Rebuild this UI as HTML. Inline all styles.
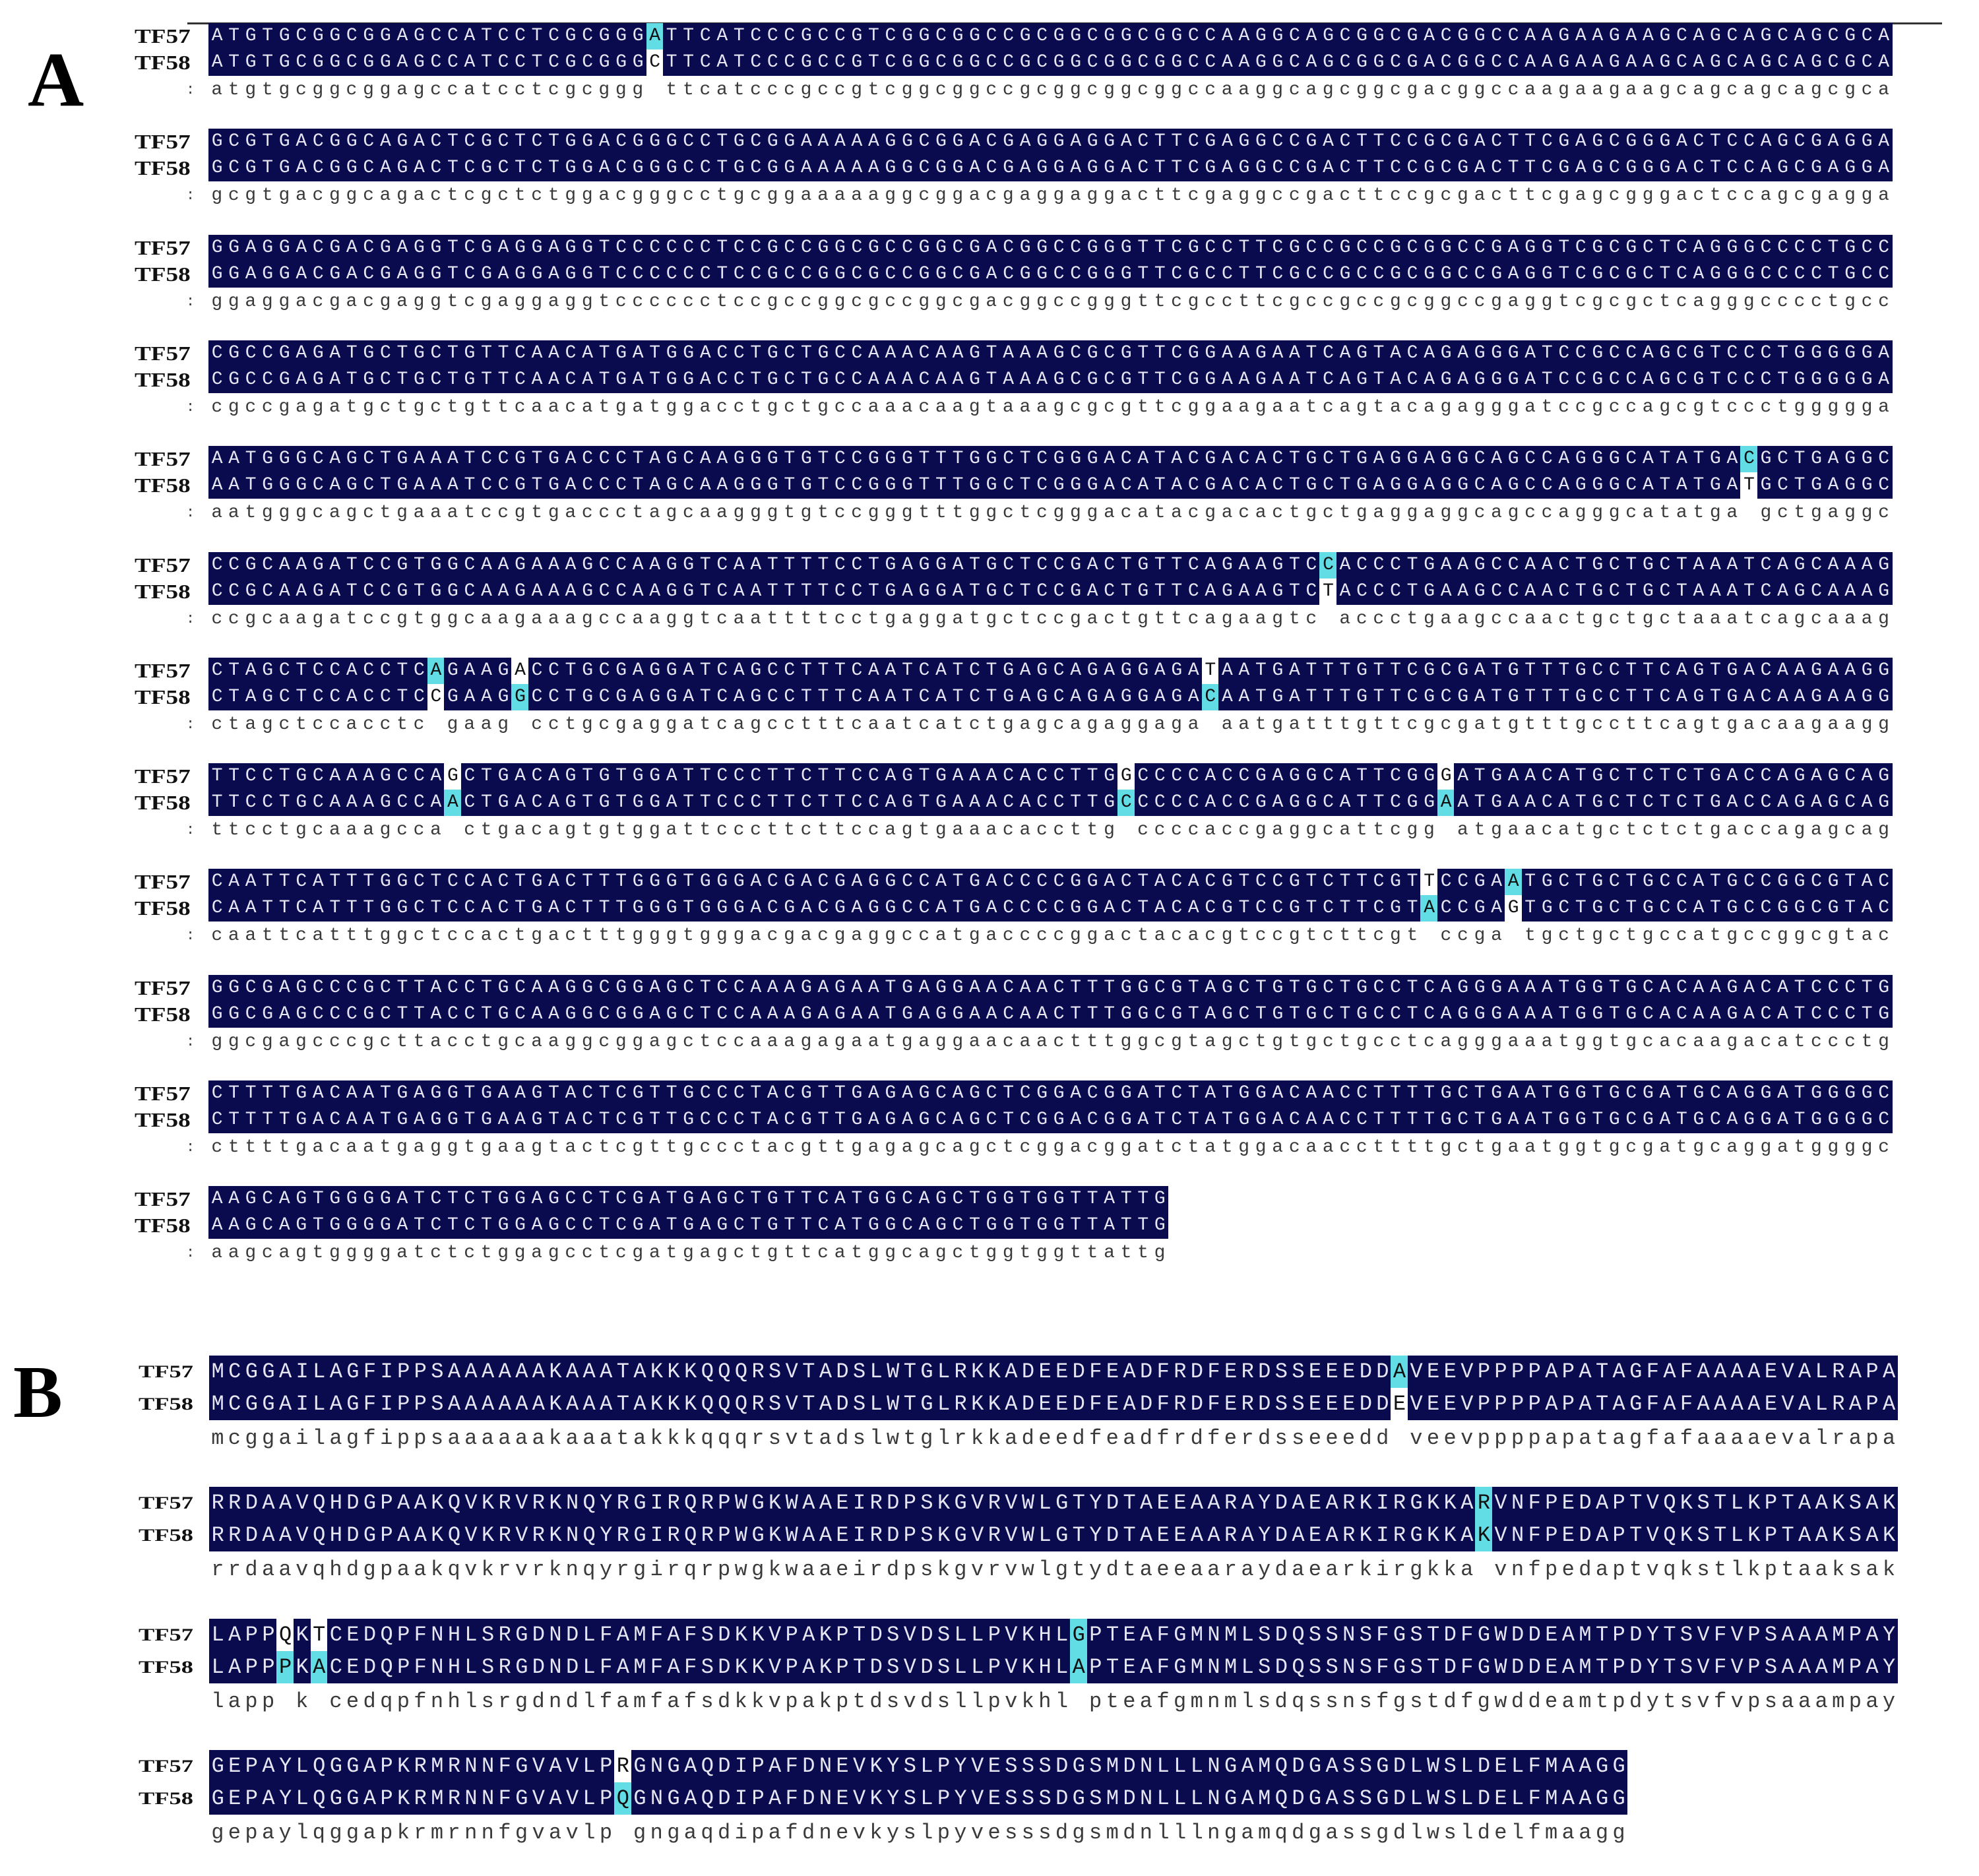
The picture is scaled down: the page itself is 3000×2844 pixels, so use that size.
<!DOCTYPE html>
<html><head><meta charset="utf-8">
<style>
html,body{margin:0;padding:0;background:#fff;}
body{width:3000px;height:2844px;overflow:hidden;position:relative;}
#wrap{position:absolute;left:0;top:0;width:3000px;height:2844px;}
.cell{position:absolute;font-family:"Liberation Mono","DejaVu Sans Mono",monospace;text-align:center;overflow:hidden;}
.lbl{position:absolute;font-family:"Liberation Serif",serif;font-weight:bold;color:#111;transform-origin:0 0;white-space:nowrap;}
.big{position:absolute;font-family:"Liberation Serif",serif;font-weight:bold;color:#000;line-height:1;}
.cons{position:absolute;font-family:"Liberation Mono",monospace;color:#3a3a3a;white-space:pre;}
</style></head><body>
<div id="wrap">
<div style="position:absolute;left:284px;top:34px;width:2660px;height:3px;background:#333"></div>
<div class="big" style="left:42px;top:62px;font-size:118px;">A</div>
<div class="big" style="left:20px;top:2055px;font-size:112px;">B</div>
</div>
<script>
// Aligned sequences: [x*/y] = TF57 residue x / TF58 residue y at a mismatch, * marks cyan highlight
const dnaRows = [
"ATGTGCGGCGGAGCCATCCTCGCGGG[A*/C]TTCATCCCGCCGTCGGCGGCCGCGGCGGCGGCCAAGGCAGCGGCGACGGCCAAGAAGAAGCAGCAGCAGCGCA",
"GCGTGACGGCAGACTCGCTCTGGACGGGCCTGCGGAAAAAGGCGGACGAGGAGGACTTCGAGGCCGACTTCCGCGACTTCGAGCGGGACTCCAGCGAGGA",
"GGAGGACGACGAGGTCGAGGAGGTCCCCCCTCCGCCGGCGCCGGCGACGGCCGGGTTCGCCTTCGCCGCCGCGGCCGAGGTCGCGCTCAGGGCCCCTGCC",
"CGCCGAGATGCTGCTGTTCAACATGATGGACCTGCTGCCAAACAAGTAAAGCGCGTTCGGAAGAATCAGTACAGAGGGATCCGCCAGCGTCCCTGGGGGA",
"AATGGGCAGCTGAAATCCGTGACCCTAGCAAGGGTGTCCGGGTTTGGCTCGGGACATACGACACTGCTGAGGAGGCAGCCAGGGCATATGA[C*/T]GCTGAGGC",
"CCGCAAGATCCGTGGCAAGAAAGCCAAGGTCAATTTTCCTGAGGATGCTCCGACTGTTCAGAAGTC[C*/T]ACCCTGAAGCCAACTGCTGCTAAATCAGCAAAG",
"CTAGCTCCACCTC[A*/C]GAAG[A/G*]CCTGCGAGGATCAGCCTTTCAATCATCTGAGCAGAGGAGA[T/C*]AATGATTTGTTCGCGATGTTTGCCTTCAGTGACAAGAAGG",
"TTCCTGCAAAGCCA[G/A*]CTGACAGTGTGGATTCCCTTCTTCCAGTGAAACACCTTG[G/C*]CCCCACCGAGGCATTCGG[G/A*]ATGAACATGCTCTCTGACCAGAGCAG",
"CAATTCATTTGGCTCCACTGACTTTGGGTGGGACGACGAGGCCATGACCCCGGACTACACGTCCGTCTTCGT[T/A*]CCGA[A*/G]TGCTGCTGCCATGCCGGCGTAC",
"GGCGAGCCCGCTTACCTGCAAGGCGGAGCTCCAAAGAGAATGAGGAACAACTTTGGCGTAGCTGTGCTGCCTCAGGGAAATGGTGCACAAGACATCCCTG",
"CTTTTGACAATGAGGTGAAGTACTCGTTGCCCTACGTTGAGAGCAGCTCGGACGGATCTATGGACAACCTTTTGCTGAATGGTGCGATGCAGGATGGGGC",
"AAGCAGTGGGGATCTCTGGAGCCTCGATGAGCTGTTCATGGCAGCTGGTGGTTATTG"
];
const protRows = [
"MCGGAILAGFIPPSAAAAAAKAAATAKKKQQQRSVTADSLWTGLRKKADEEDFEADFRDFERDSSEEEDD[A*/E]VEEVPPPPAPATAGFAFAAAAEVALRAPA",
"RRDAAVQHDGPAAKQVKRVRKNQYRGIRQRPWGKWAAEIRDPSKGVRVWLGTYDTAEEAARAYDAEARKIRGKKA[R*/K*]VNFPEDAPTVQKSTLKPTAAKSAK",
"LAPP[Q/P*]K[T/A*]CEDQPFNHLSRGDNDLFAMFAFSDKKVPAKPTDSVDSLLPVKHL[G*/A*]PTEAFGMNMLSDQSSNSFGSTDFGWDDEAMTPDYTSVFVPSAAAMPAY",
"GEPAYLQGGAPKRMRNNFGVAVLP[R/Q*]GNGAQDIPAFDNEVKYSLPYVESSSDGSMDNLLLNGAMQDGASSGDLWSLDELFMAAGG"
];
const seqNames = ["TF57","TF58"];

function parse(s){
  const cols=[];let i=0;
  while(i<s.length){
    if(s[i]==='['){
      const j=s.indexOf(']',i);const parts=s.slice(i+1,j).split('/');
      cols.push({a:parts[0][0],b:parts[1][0],ca:parts[0].includes('*'),cb:parts[1].includes('*'),mm:true});
      i=j+1;
    } else {cols.push({a:s[i],b:s[i],mm:false});i++;}
  }
  return cols;
}
const wrap=document.getElementById('wrap');
function cell(x,y,w,h,ch,bg,fg,fs){
  const d=document.createElement('div');
  d.className='cell';
  
  
  d.style.cssText=`left:${x}px;top:${y}px;width:${w+0.8}px;height:${h}px;line-height:${h}px;background:${bg};color:${fg};font-size:${fs}px;`;
  d.textContent=ch;wrap.appendChild(d);
}
function block(rows,opt){
  rows.forEach((r,ri)=>{
    const cols=parse(r);const top=opt.y0+ri*opt.pitch;
    for(let k=0;k<2;k++){
      const l=document.createElement('div');l.className='lbl';
      
      
      l.style.cssText=`left:${opt.lx}px;top:${top+k*opt.h+opt.lo}px;font-size:${opt.lfs}px;line-height:${opt.h}px;transform:scaleX(${opt.lsx});`;
      l.textContent=seqNames[k];wrap.appendChild(l);
    }
    let cons='';
    cols.forEach((c,ci)=>{
      const x=opt.x0+ci*opt.cw;
      [[c.a,c.ca],[c.b,c.cb]].forEach((v,k)=>{
        let bg='#0a0a4e',fg='#e6e6f2';
        if(c.mm){bg=v[1]?'#62dde6':'#fff';fg='#111';}
        cell(x,top+k*opt.h,opt.cw,opt.h,v[0],bg,fg,opt.fs);
      });
      cons+=c.mm?' ':c.a.toLowerCase();
    });
    const cd=document.createElement('div');cd.className='cons';
    
    
    cd.style.cssText=`left:${opt.x0+(opt.cw-opt.cfs*0.6)/2}px;top:${top+opt.co}px;font-size:${opt.cfs}px;line-height:${opt.cfs}px;letter-spacing:${opt.cw-opt.cfs*0.6}px;`;
    cd.textContent=cons;wrap.appendChild(cd);
    if(opt.colon){const cc=document.createElement('div');cc.className='cons';
      
      
      cc.style.cssText=`left:282px;top:${top+opt.co}px;font-size:22px;line-height:${opt.cfs}px;`;cc.textContent=':';wrap.appendChild(cc);}
  });
}
block(dnaRows,{x0:316,cw:25.52,y0:35,pitch:160.3,h:40,fs:28,cfs:28,lx:204,lo:0,lfs:31,lsx:1.2,co:88,colon:true});
block(protRows,{x0:317,cw:25.59,y0:2055,pitch:199.3,h:49,fs:32,cfs:32,lx:210,lo:0,lfs:26,lsx:1.4,co:110,colon:false});
</script>
</body></html>
